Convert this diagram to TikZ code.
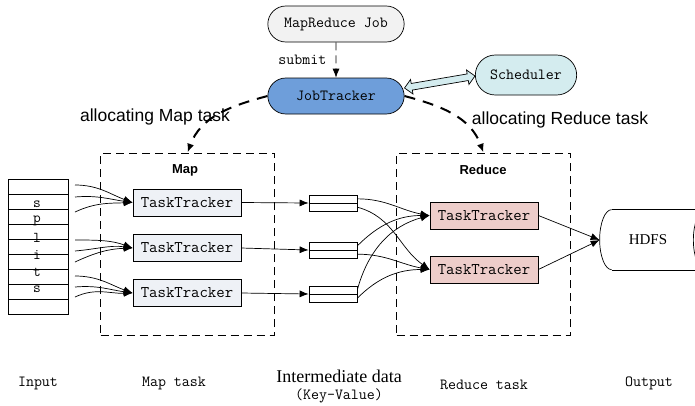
\documentclass[tikz,border=0pt]{standalone}
\usepackage{fontspec}
\newfontfamily\arialfont{Liberation Sans}
\newfontfamily\timesfont{Liberation Serif}
\usetikzlibrary{positioning, shapes.arrows, shapes.geometric, shapes.misc, calc, arrows.meta}
\definecolor{jobgray}{HTML}{F2F2F2}
\definecolor{jtblue}{HTML}{6E9EDA}
\definecolor{schcyan}{HTML}{D4ECEF}
\definecolor{mapfill}{HTML}{EEF1F6}
\definecolor{redfill}{HTML}{EDCDCA}
\begin{document}
\begin{tikzpicture}[x=1pt, y=-1pt, line width=0.7pt,
					>={Latex[length=9pt,width=7pt]},
					mono/.style={font=\ttfamily\fontsize{15.5}{18}\selectfont},
					pill/.style={draw, rounded rectangle, mono, minimum width=143pt, minimum height=36pt},
					tracker/.style={draw, font=\ttfamily\fontsize{16.3}{18}\selectfont, minimum width=108pt, minimum height=27pt, inner sep=0pt},
					kvbox/.style={draw, minimum width=48pt, minimum height=16pt, inner sep=0pt},
					inrow/.style={draw, minimum width=60pt, minimum height=15pt, inner sep=0pt},
					phase/.style={draw, dash pattern=on 8pt off 5pt, inner sep=0pt, minimum width=174pt, minimum height=182pt},
					alloc/.style={dash pattern=on 11pt off 8pt, line width=2pt, ->},
					caption/.style={font=\arialfont\fontsize{17.5}{20}\selectfont},
					boxtitle/.style={font=\arialfont\bfseries\fontsize{13}{15}\selectfont},
					xarrow/.style={double arrow, draw, fill=schcyan, inner sep=3pt, double arrow head extend=4pt}
					]
					\useasboundingbox (0,0) rectangle (695,405);
					% job submission
					\node[pill, fill=jobgray] (job) at (336,24) {MapReduce Job};
					\node[pill, fill=jtblue] (jt) at (336,96) {JobTracker};
					\node[pill, fill=schcyan, minimum width=108pt, minimum height=40pt] (sch) at (526,75) {Scheduler};
					\draw[dash pattern=on 8pt off 5pt, ->] (job) -- (jt) node[midway, left=6pt, mono] {submit};
					\path let \p1=($(jt.east)+(0,-8)$), \p2=($(sch.west)+(0,1)$), \n1={atan2(\y2-\y1,\x2-\x1)}, \n2={veclen(\x2-\x1,\y2-\y1)} in
					node[xarrow, rotate=\n1, minimum height=\n2] (link) at ($(\p1)!0.5!(\p2)$) {};
					% phase boxes
					\node[phase] (mapbox) at (187.5,244) {};
					\node[phase] (redbox) at (483.5,244) {};
					\node[boxtitle] (maptitle) at (185,170) {Map};
					\node[boxtitle] (redtitle) at (483,170) {Reduce};
					\draw[alloc] (jt.west) to[out=195, in=70] (mapbox.north);
					\draw[alloc] (jt.east) to[out=-15, in=110] (redbox.north);
					\node[caption] (allocmap) at (155,117) {allocating Map task};
					\node[caption] (allocred) at (560,120) {allocating Reduce task};
					% input splits
					\foreach \i in {0,...,8}
						\node[inrow] (in\i) at (38,186.5+15*\i) {};
					\foreach \ch [count=\k] in {s,p,l,i,t,s}
						\node[font=\ttfamily\fontsize{15}{15}\selectfont, inner sep=0pt] (ch\k) at (37,187+17*\k) {\ch};
					% map side
					\node[tracker, fill=mapfill] (m1) at (187,202.5) {TaskTracker};
					\node[tracker, fill=mapfill] (m2) at (187,248) {TaskTracker};
					\node[tracker, fill=mapfill] (m3) at (187,293) {TaskTracker};
					\foreach \k/\ya/\yb/\yc in {1/185/197/212, 2/240/251/262, 3/276/287/297} {
						\coordinate (a\k) at (75,\ya);
						\coordinate (b\k) at (75,\yb);
						\coordinate (c\k) at (75,\yc);
						\draw[->] (a\k) to[out=0, in=160] (m\k.west);
						\draw[->] (b\k) to[out=5, in=172] (m\k.west);
						\draw[->] (c\k) to[out=25, in=182] (m\k.west);
					}
					% intermediate data
					\node[kvbox] (kv1) at (333,203) {};
					\node[kvbox] (kv2) at (333,250) {};
					\node[kvbox] (kv3) at (333,294) {};
					\foreach \k in {1,2,3} {
						\draw (kv\k.west) -- (kv\k.east);
						\draw[->] (m\k.east) -- (kv\k.west);
					}
					% reduce side
					\node[tracker, fill=redfill] (r1) at (484,215.5) {TaskTracker};
					\node[tracker, fill=redfill] (r2) at (484,269.5) {TaskTracker};
					\draw[->] ($(kv1.east)!0.5!(kv1.north east)$) to[out=0, in=170] (r1.west);
					\draw[->] ($(kv1.east)!0.5!(kv1.south east)$) to[out=-15, in=145] (r2.west);
					\draw[->] ($(kv2.east)!0.5!(kv2.north east)$) to[out=45, in=180] (r1.west);
					\draw[->] ($(kv2.east)!0.5!(kv2.south east)$) to[out=0, in=170] (r2.west);
					\draw[->] ($(kv3.east)!0.5!(kv3.north east)$) to[out=75, in=195] (r1.west);
					\draw[->] ($(kv3.east)!0.5!(kv3.south east)$) to[out=45, in=180] (r2.west);
					% output (drum, cut off at the right edge)
					\node[inner sep=0pt, minimum width=105pt, minimum height=60pt,
						font=\timesfont\fontsize{15}{18}\selectfont] (hdfs) at (652.5,240) {\hspace*{-9pt}HDFS};
					\draw ($(hdfs.north west)+(12,0)$) -- (hdfs.north east);
					\draw ($(hdfs.south west)+(12,0)$) -- (hdfs.south east);
					\draw ($(hdfs.north west)+(12,0)$) arc[start angle=90, end angle=270, x radius=12pt, y radius=30pt];
					\draw (hdfs.east) ellipse[x radius=12pt, y radius=30pt];
					\draw[->] (r1.east) -- (hdfs.west);
					\draw[->] (r2.east) -- (hdfs.west);
					% captions
					\node[mono] (lblin) at (38,383) {Input};
					\node[mono] (lblmap) at (174,383) {Map task};
					\node[font=\timesfont\fontsize{18}{20}\selectfont] (lblmid) at (339,376) {Intermediate data};
					\node[mono] (lblkv) at (339,396) {(Key-Value)};
					\node[mono] (lblred) at (484,385) {Reduce task};
					\node[mono] (lblout) at (649,383) {Output};
				\end{tikzpicture}
\end{document}
